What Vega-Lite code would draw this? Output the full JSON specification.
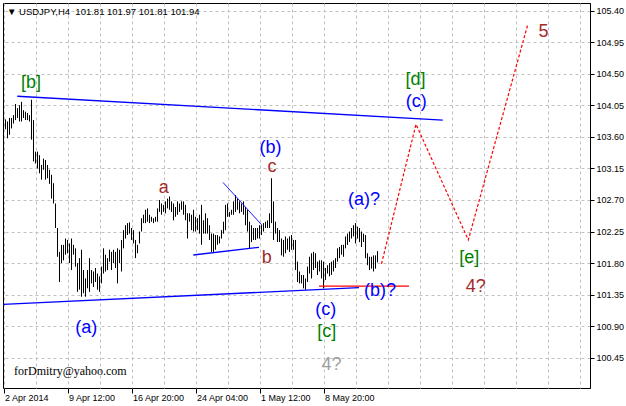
{
  "$schema": "https://vega.github.io/schema/vega-lite/v6.json",
  "width": 587,
  "height": 385,
  "autosize": {"type": "none"},
  "padding": {"left": 3, "top": 3, "right": 36, "bottom": 18},
  "background": "white",
  "title": {
    "text": "▼  USDJPY,H4\u00a0 101.81 101.97 101.81 101.94",
    "anchor": "start",
    "frame": "group",
    "orient": "top",
    "offset": -21,
    "dx": 4,
    "baseline": "alphabetic",
    "font": "Liberation Sans",
    "fontSize": 9.5,
    "fontWeight": "normal",
    "color": "black"
  },
  "config": {
    "view": {"stroke": "black", "strokeWidth": 1},
    "axis": {"labelFont": "Liberation Sans", "labelFontSize": 9, "labelColor": "black", "tickColor": "black", "domainColor": "black"}
  },
  "datasets": {
    "bars": [
      {"i":0,"high":103.85,"low":103.71},{"i":1,"high":103.82,"low":103.58},{"i":2,"high":103.87,"low":103.63},{"i":3,"high":103.87,"low":103.72},
      {"i":4,"high":103.91,"low":103.79},{"i":5,"high":104.07,"low":103.84},{"i":6,"high":104.01,"low":103.87},{"i":7,"high":104.05,"low":103.82},
      {"i":8,"high":104.10,"low":103.82},{"i":9,"high":103.98,"low":103.87},{"i":10,"high":103.96,"low":103.84},{"i":11,"high":103.94,"low":103.84},
      {"i":12,"high":103.91,"low":103.82},{"i":13,"high":104.13,"low":103.56},{"i":14,"high":103.84,"low":103.25},{"i":15,"high":103.39,"low":103.22},
      {"i":16,"high":103.39,"low":103.15},{"i":17,"high":103.34,"low":103.08},{"i":18,"high":103.20,"low":102.99},{"i":19,"high":103.29,"low":103.13},
      {"i":20,"high":103.27,"low":102.99},{"i":21,"high":103.20,"low":103.01},{"i":22,"high":103.13,"low":102.93},{"i":23,"high":103.06,"low":102.72},
      {"i":24,"high":102.94,"low":102.65},{"i":25,"high":102.65,"low":102.30},{"i":26,"high":102.30,"low":101.89},{"i":27,"high":101.96,"low":101.53},
      {"i":28,"high":102.06,"low":101.80},{"i":29,"high":102.06,"low":101.84},{"i":30,"high":102.15,"low":101.92},{"i":31,"high":102.13,"low":101.94},
      {"i":32,"high":102.08,"low":101.80},{"i":33,"high":102.15,"low":101.70},{"i":34,"high":102.06,"low":101.92},{"i":35,"high":102.01,"low":101.75},
      {"i":36,"high":101.80,"low":101.39},{"i":37,"high":101.87,"low":101.42},{"i":38,"high":101.99,"low":101.32},{"i":39,"high":101.70,"low":101.37},
      {"i":40,"high":101.58,"low":101.32},{"i":41,"high":101.70,"low":101.44},{"i":42,"high":101.87,"low":101.39},{"i":43,"high":101.70,"low":101.51},
      {"i":44,"high":101.68,"low":101.46},{"i":45,"high":101.73,"low":101.53},{"i":46,"high":101.65,"low":101.42},{"i":47,"high":101.61,"low":101.39},
      {"i":48,"high":101.75,"low":101.51},{"i":49,"high":102.01,"low":101.65},{"i":50,"high":101.92,"low":101.68},{"i":51,"high":101.87,"low":101.70},
      {"i":52,"high":101.99,"low":101.82},{"i":53,"high":101.96,"low":101.70},{"i":54,"high":101.99,"low":101.80},{"i":55,"high":101.96,"low":101.73},
      {"i":56,"high":102.01,"low":101.51},{"i":57,"high":101.99,"low":101.80},{"i":58,"high":102.13,"low":101.68},{"i":59,"high":102.27,"low":102.01},
      {"i":60,"high":102.34,"low":102.15},{"i":61,"high":102.37,"low":102.20},{"i":62,"high":102.38,"low":102.22},{"i":63,"high":102.30,"low":102.13},
      {"i":64,"high":102.27,"low":102.08},{"i":65,"high":102.13,"low":101.87},{"i":66,"high":102.06,"low":101.94},{"i":67,"high":102.25,"low":102.08},
      {"i":68,"high":102.44,"low":102.25},{"i":69,"high":102.49,"low":102.37},{"i":70,"high":102.56,"low":102.37},{"i":71,"high":102.58,"low":102.39},
      {"i":72,"high":102.49,"low":102.37},{"i":73,"high":102.46,"low":102.39},{"i":74,"high":102.44,"low":102.37},{"i":75,"high":102.46,"low":102.39},
      {"i":76,"high":102.58,"low":102.39},{"i":77,"high":102.70,"low":102.53},{"i":78,"high":102.65,"low":102.49},{"i":79,"high":102.63,"low":102.53},
      {"i":80,"high":102.68,"low":102.51},{"i":81,"high":102.72,"low":102.58},{"i":82,"high":102.75,"low":102.56},{"i":83,"high":102.68,"low":102.53},
      {"i":84,"high":102.65,"low":102.41},{"i":85,"high":102.60,"low":102.46},{"i":86,"high":102.68,"low":102.49},{"i":87,"high":102.65,"low":102.53},
      {"i":88,"high":102.68,"low":102.56},{"i":89,"high":102.68,"low":102.49},{"i":90,"high":102.63,"low":102.41},{"i":91,"high":102.51,"low":102.15},
      {"i":92,"high":102.51,"low":102.39},{"i":93,"high":102.49,"low":102.27},{"i":94,"high":102.56,"low":102.25},{"i":95,"high":102.46,"low":102.25},
      {"i":96,"high":102.44,"low":102.27},{"i":97,"high":102.49,"low":102.22},{"i":98,"high":102.63,"low":102.06},{"i":99,"high":102.41,"low":102.22},
      {"i":100,"high":102.51,"low":102.22},{"i":101,"high":102.44,"low":102.22},{"i":102,"high":102.34,"low":102.13},{"i":103,"high":102.22,"low":101.96},
      {"i":104,"high":102.22,"low":101.96},{"i":105,"high":102.20,"low":101.99},{"i":106,"high":102.20,"low":102.06},{"i":107,"high":102.18,"low":102.08},
      {"i":108,"high":102.27,"low":102.15},{"i":109,"high":102.39,"low":102.22},{"i":110,"high":102.63,"low":102.27},{"i":111,"high":102.65,"low":102.46},
      {"i":112,"high":102.53,"low":102.46},{"i":113,"high":102.56,"low":102.49},{"i":114,"high":102.68,"low":102.49},{"i":115,"high":102.77,"low":102.53},
      {"i":116,"high":102.72,"low":102.56},{"i":117,"high":102.68,"low":102.51},{"i":118,"high":102.65,"low":102.53},{"i":119,"high":102.68,"low":102.49},
      {"i":120,"high":102.60,"low":102.34},{"i":121,"high":102.56,"low":102.25},{"i":122,"high":102.39,"low":102.01},{"i":123,"high":102.34,"low":102.10},
      {"i":124,"high":102.30,"low":102.13},{"i":125,"high":102.30,"low":102.13},{"i":126,"high":102.30,"low":102.15},{"i":127,"high":102.34,"low":102.15},
      {"i":128,"high":102.34,"low":102.20},{"i":129,"high":102.37,"low":102.25},{"i":130,"high":102.39,"low":102.30},{"i":131,"high":102.41,"low":102.30},
      {"i":132,"high":102.51,"low":102.30},{"i":133,"high":103.01,"low":102.37},{"i":134,"high":102.68,"low":102.13},{"i":135,"high":102.39,"low":102.22},
      {"i":136,"high":102.30,"low":102.10},{"i":137,"high":102.27,"low":102.10},{"i":138,"high":102.15,"low":101.91},{"i":139,"high":102.13,"low":101.89},
      {"i":140,"high":102.18,"low":101.94},{"i":141,"high":102.15,"low":101.99},{"i":142,"high":102.18,"low":101.96},{"i":143,"high":102.20,"low":101.99},
      {"i":144,"high":102.13,"low":101.99},{"i":145,"high":102.13,"low":101.70},{"i":146,"high":101.82,"low":101.53},{"i":147,"high":101.68,"low":101.51},
      {"i":148,"high":101.63,"low":101.51},{"i":149,"high":101.63,"low":101.44},{"i":150,"high":101.58,"low":101.42},{"i":151,"high":101.75,"low":101.53},
      {"i":152,"high":101.89,"low":101.65},{"i":153,"high":101.94,"low":101.58},{"i":154,"high":101.96,"low":101.70},{"i":155,"high":101.94,"low":101.73},
      {"i":156,"high":101.82,"low":101.63},{"i":157,"high":101.84,"low":101.68},{"i":158,"high":101.84,"low":101.58},{"i":159,"high":101.82,"low":101.44},
      {"i":160,"high":101.73,"low":101.56},{"i":161,"high":101.77,"low":101.65},{"i":162,"high":101.80,"low":101.61},{"i":163,"high":101.82,"low":101.63},
      {"i":164,"high":101.84,"low":101.68},{"i":165,"high":101.87,"low":101.73},{"i":166,"high":102.01,"low":101.82},{"i":167,"high":102.03,"low":101.87},
      {"i":168,"high":102.06,"low":101.92},{"i":169,"high":102.06,"low":101.89},{"i":170,"high":102.18,"low":102.01},{"i":171,"high":102.22,"low":102.06},
      {"i":172,"high":102.25,"low":102.10},{"i":173,"high":102.30,"low":102.15},{"i":174,"high":102.34,"low":102.18},{"i":175,"high":102.37,"low":102.08},
      {"i":176,"high":102.32,"low":102.15},{"i":177,"high":102.30,"low":102.10},{"i":178,"high":102.25,"low":102.03},{"i":179,"high":102.22,"low":102.10},
      {"i":180,"high":102.20,"low":101.87},{"i":181,"high":101.94,"low":101.77},{"i":182,"high":101.89,"low":101.70},{"i":183,"high":101.89,"low":101.72},
      {"i":184,"high":101.91,"low":101.68},{"i":185,"high":101.91,"low":101.72},{"i":186,"high":101.97,"low":101.81}
    ],
    "trend": [
      {"line":"upper","i":5.9,"price":104.18},{"line":"upper","i":218.6,"price":103.84},
      {"line":"lower","i":-1.25,"price":101.21},{"line":"lower","i":176.75,"price":101.45},
      {"line":"inner-low","i":93.9,"price":101.915},{"line":"inner-low","i":126.75,"price":102.025}
    ],
    "diag": [
      {"i":108.75,"price":102.95},{"i":128.25,"price":102.34}
    ],
    "level": [
      {"i":156.75,"price":101.47},{"i":201.75,"price":101.47}
    ],
    "forecast": [
      {"i":188,"price":101.79},{"i":205.25,"price":103.78},{"i":231.4,"price":102.13},{"i":261.1,"price":105.20}
    ],
    "labels": [
      {"label":"[b]","degree":"intermediate","i":12.75,"price":104.30},
      {"label":"a","degree":"minute","i":79.1,"price":102.80},
      {"label":"(b)","degree":"minor","i":132.5,"price":103.37},
      {"label":"c","degree":"minute","i":133.25,"price":103.10},
      {"label":"b","degree":"minute","i":130.6,"price":101.80},
      {"label":"(a)","degree":"minor","i":40.4,"price":100.80},
      {"label":"(c)","degree":"minor","i":160.15,"price":101.06},
      {"label":"[c]","degree":"intermediate","i":160.6,"price":100.75},
      {"label":"4?","degree":"alternate","i":163,"price":100.27},
      {"label":"(b)?","degree":"minor","i":187.25,"price":101.33},
      {"label":"(a)?","degree":"minor","i":179.25,"price":102.63},
      {"label":"[d]","degree":"intermediate","i":205,"price":104.34},
      {"label":"(c)","degree":"minor","i":205.4,"price":104.03},
      {"label":"5","degree":"primary","i":269,"price":105.02},
      {"label":"[e]","degree":"intermediate","i":231.9,"price":101.80},
      {"label":"4?","degree":"primary","i":235.15,"price":101.39}
    ],
    "note": [
      {"label":"forDmitry@yahoo.com","i":4.25,"price":100.20}
    ]
  },
  "layer": [
    {
      "data": {"name": "bars"},
      "mark": {"type": "rule", "color": "black", "strokeWidth": 1},
      "encoding": {
        "x": {
          "field": "i", "type": "quantitative",
          "scale": {"domain": [-1.25, 292.25], "nice": false, "zero": false},
          "axis": {
            "orient": "bottom", "title": null, "domain": false, "tickCount": 60,
            "values": [-1,15,31,47,63,79,95,111,127,143,159,175,191,207,223,239,255,271,287],
            "labelExpr": "datum.value === -1 ? '2 Apr 2014' : datum.value === 31 ? '9 Apr 12:00' : datum.value === 63 ? '16 Apr 20:00' : datum.value === 95 ? '24 Apr 04:00' : datum.value === 127 ? '1 May 12:00' : datum.value === 159 ? '8 May 20:00' : ''",
            "labelAlign": "left", "labelBaseline": "top", "labelPadding": 0, "labelOffset": 1,
            "labelOverlap": false, "labelBound": false, "labelFlush": false,
            "tickSize": 5,
            "tickOpacity": {"condition": {"test": "indexof([-1,31,63,95,127,159], datum.value) >= 0", "value": 1}, "value": 0},
            "grid": true, "gridColor": "#c0c0c0", "gridDash": [3, 3], "gridWidth": 1
          }
        },
        "y": {
          "field": "high", "type": "quantitative",
          "scale": {"domain": [100.018, 105.51], "nice": false, "zero": false},
          "axis": {
            "orient": "right", "title": null, "domain": true, "tickCount": 40,
            "values": [100.45,100.9,101.35,101.8,102.25,102.7,103.15,103.6,104.05,104.5,104.95,105.4],
            "format": ".2f", "tickSize": 4, "labelPadding": 2, "labelBaseline": "middle",
            "labelOverlap": false, "labelBound": false, "labelFlush": false,
            "grid": true, "gridColor": "#c0c0c0", "gridDash": [3, 3], "gridWidth": 1
          }
        },
        "y2": {"field": "low"}
      }
    },
    {
      "data": {"name": "trend"},
      "mark": {"type": "line", "color": "#0000ff", "strokeWidth": 1.3, "clip": true},
      "encoding": {
        "x": {"field": "i", "type": "quantitative"},
        "y": {"field": "price", "type": "quantitative"},
        "detail": {"field": "line"}
      }
    },
    {
      "data": {"name": "diag"},
      "mark": {"type": "line", "color": "#0000ff", "strokeWidth": 0.9, "clip": true},
      "encoding": {
        "x": {"field": "i", "type": "quantitative"},
        "y": {"field": "price", "type": "quantitative"}
      }
    },
    {
      "data": {"name": "level"},
      "mark": {"type": "line", "color": "#ff0000", "strokeWidth": 1.3, "clip": true},
      "encoding": {
        "x": {"field": "i", "type": "quantitative"},
        "y": {"field": "price", "type": "quantitative"}
      }
    },
    {
      "data": {"name": "forecast"},
      "mark": {"type": "line", "color": "#ff0000", "strokeWidth": 1.2, "strokeDash": [3, 2], "clip": true},
      "encoding": {
        "x": {"field": "i", "type": "quantitative"},
        "y": {"field": "price", "type": "quantitative"}
      }
    },
    {
      "data": {"name": "labels"},
      "mark": {"type": "text", "font": "Liberation Sans", "align": "center", "baseline": "alphabetic"},
      "encoding": {
        "x": {"field": "i", "type": "quantitative"},
        "y": {"field": "price", "type": "quantitative"},
        "text": {"field": "label"},
        "color": {
          "field": "degree", "type": "nominal", "legend": null,
          "scale": {"domain": ["minor","minute","intermediate","primary","alternate"], "range": ["#0000ff","#a52a2a","#008000","#a52a2a","#a0a0a0"]}
        },
        "size": {
          "field": "degree", "type": "nominal", "legend": null,
          "scale": {"domain": ["minor","minute","intermediate","primary","alternate"], "range": [18,18,18,22,22]}
        }
      }
    },
    {
      "data": {"name": "note"},
      "mark": {"type": "text", "font": "Liberation Serif", "fontSize": 12, "align": "left", "baseline": "alphabetic", "color": "black"},
      "encoding": {
        "x": {"field": "i", "type": "quantitative"},
        "y": {"field": "price", "type": "quantitative"},
        "text": {"field": "label"}
      }
    }
  ]
}
